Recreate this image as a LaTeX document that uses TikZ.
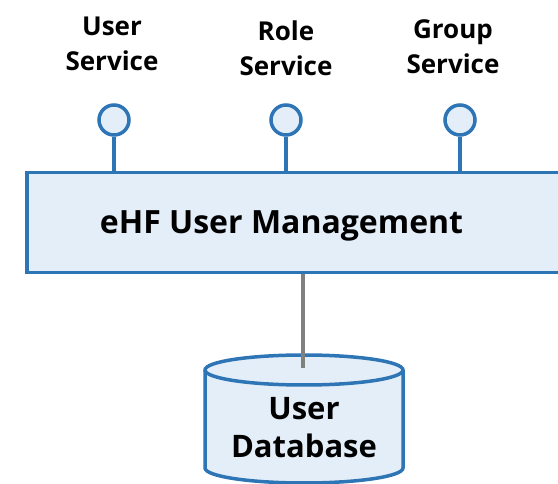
\documentclass[tikz,border=0pt]{standalone}
\usepackage{fontspec}
\setmainfont{Open Sans}
\definecolor{umblue}{HTML}{2E75B6}
\definecolor{umfill}{HTML}{E4EEF8}
\definecolor{umgray}{HTML}{808080}
\tikzset{
  svclabel/.style={align=center,font=\bfseries\fontsize{26}{35}\selectfont,inner sep=0pt},
  iface/.style={circle,draw=umblue,fill=umfill,line width=3.5pt,minimum size=30pt,inner sep=0pt},
  ifaceline/.style={draw=umblue,line width=3.5pt},
  compbox/.style={rectangle,draw=umblue,fill=umfill,line width=3.5pt,minimum width=543pt,minimum height=100pt,inner sep=0pt},
  dbshape/.style={draw=umblue,fill=umfill,line width=3.5pt,line join=round},
  dbline/.style={draw=umgray,line width=4pt}
}
\begin{document}
\begin{tikzpicture}[x=1pt,y=-1pt]
		\useasboundingbox (0,0) rectangle (558,484);
		% services
		\node[svclabel] (userlbl) at (112,44) {User\\Service};
		\node[svclabel] (rolelbl) at (286,48) {Role\\Service};
		\node[svclabel] (grouplbl) at (453,47) {Group\\Service};
		\node[iface] (usersvc) at (114,120) {};
		\node[iface] (rolesvc) at (286,120) {};
		\node[iface] (groupsvc) at (460,120) {};
		% component
		\node[compbox] (mgmt) at (298.5,222.5) {};
		\node[font=\bfseries\fontsize{32}{36}\selectfont,inner sep=0pt] (mgmtlbl) at (281.5,226) {eHF User Management};
		\foreach \s in {usersvc,rolesvc,groupsvc}
		\draw[ifaceline] (\s.south) -- (\s |- mgmt.north);
		% database
		\path[dbshape] (205,370) -- (205,468) arc[start angle=180,end angle=0,x radius=99,y radius=15] -- (403,370);
		\path[dbshape] (304,370) ellipse[x radius=99,y radius=15];
		\node[font=\bfseries\fontsize{31}{38}\selectfont,align=center,inner sep=0pt] (dblbl) at (304,428) {User\\Database};
		\coordinate (dbhub) at (303,368);
		\draw[dbline] (mgmt.south -| dbhub) -- (dbhub);
		\end{tikzpicture}
\end{document}
